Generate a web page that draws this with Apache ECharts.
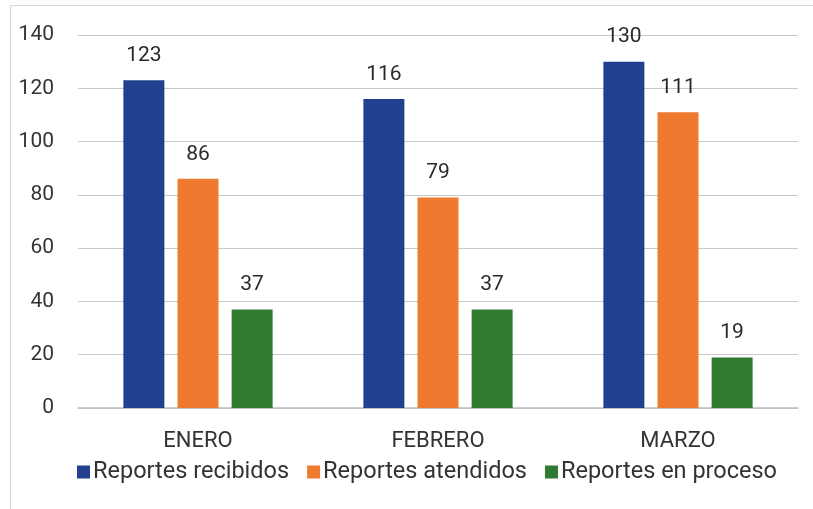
<!DOCTYPE html>
<html>
<head>
<meta charset="utf-8">
<script src="https://cdn.jsdelivr.net/npm/echarts@6/dist/echarts.min.js"></script>
<style>
  html, body { margin: 0; padding: 0; background: #fff; }
  #frame { position: absolute; left: 10px; top: 5px; width: 820px; height: 520px; border: 1px solid #d4d8d8; }
  #chart { width: 813px; height: 509px; }
</style>
</head>
<body>
<div id="frame"></div>
<div id="chart"></div>
<script>
//== 数据
var meses = ['ENERO', 'FEBRERO', 'MARZO'];
var recibidos = [123, 116, 130];
var atendidos = [86, 79, 111];
var enProceso = [37, 37, 19];

var initChart = function () {
    var myChart = echarts.init(document.getElementById('chart'));
    var labelStyle = {
        show: true,
        position: 'top',
        distance: 14,
        color: '#2a2a2a',
        fontSize: 21,
        fontFamily: 'Roboto'
    };
    var mkSerie = function (name, data, color) {
        return {
            name: name,
            type: 'bar',
            data: data,
            barWidth: 41,
            barGap: '32%',
            itemStyle: { color: color },
            label: labelStyle
        };
    };
    var option = {
        animation: false,
        textStyle: { fontFamily: 'Roboto' },
        grid: { left: 78, right: 15, top: 35, bottom: 101 },
        legend: {
            bottom: 20,
            left: 72,
            itemWidth: 13,
            itemHeight: 13,
            itemGap: 18,
            icon: 'rect',
            textStyle: { fontSize: 23.5, color: '#333', padding: [0, 0, 0, -2] },
            data: ['Reportes recibidos', 'Reportes atendidos', 'Reportes en proceso']
        },
        xAxis: {
            type: 'category',
            data: meses,
            axisTick: { show: false },
            axisLine: { lineStyle: { color: '#bdbdbd', width: 1.5 } },
            axisLabel: { fontSize: 22, color: '#333', margin: 22 }
        },
        yAxis: {
            type: 'value',
            min: 0,
            max: 140,
            interval: 20,
            axisLabel: { fontSize: 21, color: '#333', margin: 24 },
            splitLine: { lineStyle: { color: '#c8c8c8' } }
        },
        series: [
            mkSerie('Reportes recibidos', recibidos, '#21408f'),
            mkSerie('Reportes atendidos', atendidos, '#ee7a30'),
            mkSerie('Reportes en proceso', enProceso, '#2d7a30')
        ]
    };
    myChart.setOption(option, true);
};

initChart();
</script>
</body>
</html>
